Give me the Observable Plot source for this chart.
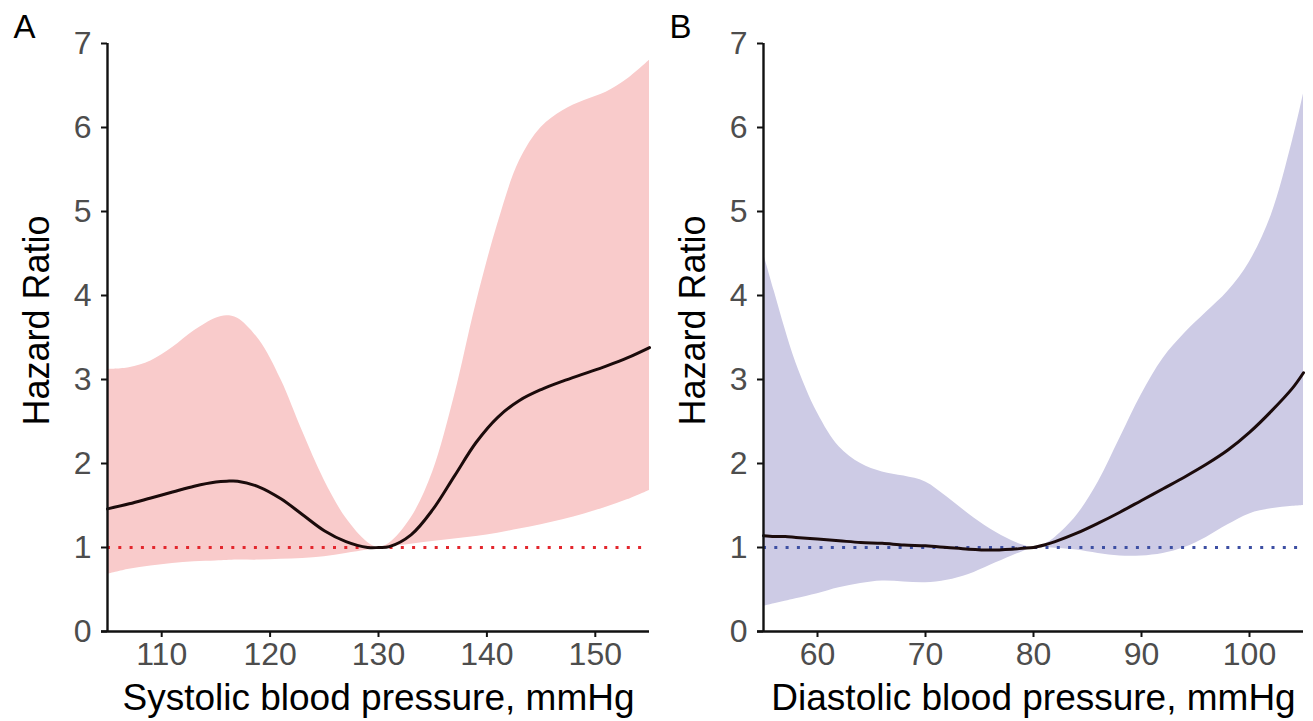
<!DOCTYPE html>
<html>
<head>
<meta charset="utf-8">
<script src="https://cdn.jsdelivr.net/npm/d3@7"></script>
<script src="https://cdn.jsdelivr.net/npm/@observablehq/plot@0.6"></script>
<style>
  html, body { margin: 0; padding: 0; background: #fff; }
  #wrap { display: flex; width: 1313px; height: 721px; }
</style>
</head>
<body>
<div id="wrap"></div>
<script>
// ---- Panel A: systolic blood pressure ----
const sbpX  = [105,107,109,111,113,115,116,117,119,121,123,125,127,129,130,131,133,135,137,139,141,143,145,147,149,151,153,155];
const sbpHR = [1.46,1.52,1.59,1.66,1.73,1.78,1.79,1.79,1.72,1.58,1.39,1.20,1.07,1.00,1.00,1.01,1.15,1.45,1.85,2.25,2.55,2.75,2.88,2.98,3.07,3.16,3.26,3.38];
const sbpLo = [0.68,0.74,0.78,0.81,0.83,0.84,0.845,0.85,0.85,0.86,0.87,0.89,0.93,0.97,1.00,1.01,1.04,1.07,1.10,1.13,1.17,1.22,1.27,1.33,1.40,1.48,1.57,1.68];
const sbpHi = [3.12,3.14,3.22,3.38,3.58,3.73,3.76,3.73,3.47,3.00,2.38,1.80,1.35,1.06,1.00,1.05,1.35,1.90,2.80,3.90,4.85,5.60,6.00,6.20,6.32,6.42,6.58,6.80];

// ---- Panel B: diastolic blood pressure ----
const dbpX  = [55,56,57,58,60,62,64,66,68,70,72,74,76,78,79,80,81,82,84,86,88,90,92,94,96,98,100,102,104,105];
const dbpHR = [1.14,1.13,1.13,1.12,1.10,1.08,1.06,1.05,1.03,1.02,1.00,0.98,0.97,0.98,0.99,1.00,1.03,1.07,1.17,1.29,1.42,1.56,1.70,1.84,1.99,2.16,2.37,2.62,2.90,3.08];
const dbpLo = [0.30,0.33,0.36,0.39,0.45,0.52,0.57,0.60,0.59,0.58,0.61,0.68,0.79,0.90,0.95,1.00,1.00,0.99,0.97,0.93,0.90,0.90,0.93,1.00,1.12,1.27,1.40,1.46,1.49,1.50];
const dbpHi = [4.50,4.05,3.60,3.20,2.60,2.20,2.00,1.90,1.85,1.78,1.60,1.40,1.22,1.08,1.03,1.00,1.04,1.12,1.38,1.78,2.30,2.82,3.25,3.55,3.80,4.05,4.40,4.95,5.85,6.40];

const yTicks = [0,1,2,3,4,5,6,7];
const sbpTicks = [110,120,130,140,150];
const dbpTicks = [60,70,80,90,100];
const yTitle = "Hazard Ratio";

const panels = [
  {letter: "A", x: sbpX, hr: sbpHR, lo: sbpLo, hi: sbpHi, domain: [105,155], ticks: sbpTicks,
   xTitle: "Systolic blood pressure, mmHg", fill: "#f9cbcb", dot: "#e3262d", width: 656, marginRight: 7},
  {letter: "B", x: dbpX, hr: dbpHR, lo: dbpLo, hi: dbpHi, domain: [55,105], ticks: dbpTicks,
   xTitle: "Diastolic blood pressure, mmHg", fill: "#cdcbe5", dot: "#3d4fa3", width: 657, marginRight: 10}
];

const FONT = "'Liberation Sans', Arial, Helvetica, sans-serif";

for (const p of panels) {
  const rows = p.x.map((x, i) => ({x, hr: p.hr[i], lo: p.lo[i], hi: p.hi[i]}));
  const chart = Plot.plot({
    width: p.width,
    height: 721,
    marginLeft: 107,
    marginRight: p.marginRight,
    marginTop: 43,
    marginBottom: 90,
    style: {fontFamily: FONT, background: "#fff", overflow: "visible"},
    x: {domain: p.domain, ticks: p.ticks, label: null},
    y: {domain: [0, 7], ticks: yTicks, label: null},
    marks: [
      Plot.areaY(rows, {x: "x", y1: "lo", y2: "hi", fill: p.fill, curve: "catmull-rom"}),
      Plot.ruleY([1], {stroke: p.dot, strokeWidth: 3, strokeDasharray: "3,8.3"}),
      Plot.line(rows, {x: "x", y: "hr", stroke: "#1b0b0b", strokeWidth: 3, curve: "catmull-rom"}),
      Plot.ruleY([0], {stroke: "#111", strokeWidth: 2.4, x1: p.domain[0], x2: p.domain[1], insetLeft: -6}),
      Plot.ruleX([p.domain[0]], {stroke: "#111", strokeWidth: 2.4, y1: 0, y2: 7}),
      Plot.axisY({ticks: yTicks, tickSize: 6, text: null, label: null, stroke: "#111", strokeWidth: 2}),
      Plot.axisY({ticks: yTicks, tickSize: 0, tickPadding: 16, label: null, fill: "#4d4d4d", fontSize: 32, tickFormat: d => String(d)}),
      Plot.axisX({ticks: p.ticks, tickSize: 6, text: null, label: null, stroke: "#111", strokeWidth: 2}),
      Plot.axisX({ticks: p.ticks, tickSize: 0, tickPadding: 11, label: null, fill: "#4d4d4d", fontSize: 32, tickFormat: d => String(d)}),
      Plot.text([yTitle], {frameAnchor: "left", rotate: -90, dx: -70, dy: -17, textAnchor: "middle", fontSize: 36, fill: "#000", lineAnchor: "middle"}),
      Plot.text([p.xTitle], {frameAnchor: "bottom", dy: 67, textAnchor: "middle", fontSize: 37, fill: "#000", lineAnchor: "middle"}),
      Plot.text([p.letter], {frameAnchor: "top-left", dx: -94, dy: -16, textAnchor: "start", fontSize: 33, fill: "#000", lineAnchor: "middle"})
    ]
  });
  document.getElementById("wrap").appendChild(chart);
}
</script>
</body>
</html>
